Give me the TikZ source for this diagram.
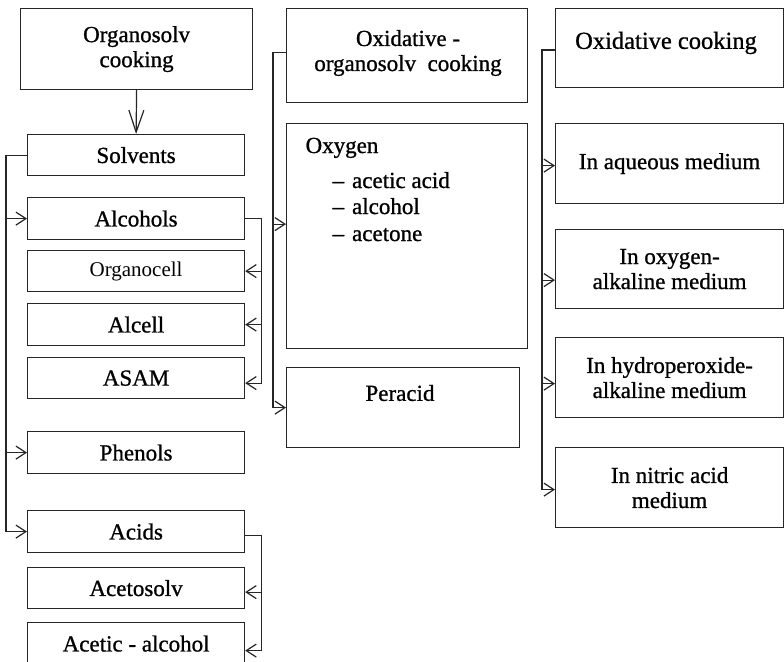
\documentclass[tikz,border=0pt]{standalone}
\usepackage{fontspec}
\setmainfont{Liberation Serif}[FakeBold=0.9]
\newfontfamily\lightserif{Liberation Serif}
\usetikzlibrary{arrows.meta}
\begin{document}
\begin{tikzpicture}[x=1pt,y=-1pt, line width=1.2pt, draw=black!85,
  box/.style={draw, anchor=north west, inner sep=0pt, align=center},
  lbox/.style={box, minimum width=217pt},
  rbox/.style={box, minimum width=228pt},
  txt/.style={align=center, inner sep=0pt},
  arr/.style={-{Straight Barb[length=10pt,width=13pt]}},
  bigarr/.style={-{Straight Barb[length=22pt,width=15pt]}},
  font=\fontsize{23}{25}\selectfont]
\useasboundingbox (0,0) rectangle (784,661);
\clip (0,0) rectangle (784,661);
\fill[white] (0,0) rectangle (784,661);

% left column
\node[box, minimum width=232pt, minimum height=81pt] (org) at (20,8) {Organosolv\\cooking};
\node[lbox, minimum height=41pt] (sol) at (27,134) {Solvents};
\node[lbox, minimum height=42pt] (alc) at (27,197) {Alcohols};
\node[lbox, minimum height=41pt] (ocell) at (27,250) {\lightserif\fontsize{21}{25}\selectfont Organocell};
\node[lbox, minimum height=42pt] (alcell) at (27,303) {Alcell};
\node[lbox, minimum height=41pt] (asam) at (27,357) {ASAM};
\node[lbox, minimum height=42pt] (phen) at (27,431) {Phenols};
\node[lbox, minimum height=42pt] (acids) at (27,510) {Acids};
\node[lbox, minimum height=41pt] (aceto) at (27,567) {Acetosolv};
\node[lbox, minimum height=42pt] (acet) at (27,622) {Acetic - alcohol};

% middle column
\node[box, minimum width=241pt, minimum height=94pt] (oxo) at (286,8) {};
\node[txt] (oxot) at (408,53) {Oxidative -\\organosolv\ \ cooking};
\node[box, minimum width=241pt, minimum height=225pt] (oxy) at (286,123) {};
\node[anchor=base west, inner sep=0pt] (oxyt) at (305,153) {Oxygen};
\node[anchor=base west, inner sep=0pt] (l1) at (332,188) {–\hspace{8pt}acetic acid};
\node[anchor=base west, inner sep=0pt] (l2) at (332,214) {–\hspace{8pt}alcohol};
\node[anchor=base west, inner sep=0pt] (l3) at (332,241) {–\hspace{8pt}acetone};
\node[box, minimum width=233pt, minimum height=80pt] (per) at (286,367) {};
\node[txt] (pert) at (400,393) {Peracid};

% right column
\node[rbox, minimum height=79pt] (oxc) at (555,8) {};
\node[txt] (oxct) at (666,43) {\fontsize{24.5}{25}\selectfont Oxidative cooking};
\node[rbox, minimum height=80pt] (aq) at (555,123) {In aqueous medium};
\node[rbox, minimum height=79pt] (oxal) at (555,229) {In oxygen-\\alkaline medium};
\node[rbox, minimum height=80pt] (hyd) at (555,337) {In hydroperoxide-\\alkaline medium};
\node[rbox, minimum height=80pt] (nit) at (555,447) {In nitric acid\\medium};

% connectors left
\draw[bigarr] (org.south) -- (sol.north);
\draw[arr] (sol.west) -| ([xshift=-21pt]acids.west) -- (acids.west);
\draw[arr] ([xshift=-21pt]alc.west) -- (alc.west);
\draw[arr] ([xshift=-21pt]phen.west) -- (phen.west);
\draw[arr] (alc.east) -| ([xshift=16pt,yshift=-5pt]asam.east) -- ([yshift=-5pt]asam.east);
\draw[arr] ([xshift=16pt]ocell.east) -- (ocell.east);
\draw[arr] ([xshift=16pt]alcell.east) -- (alcell.east);
\draw[arr] ([yshift=-4pt]acids.east) -| ([xshift=16pt,yshift=-7pt]acet.east) -- ([yshift=-7pt]acet.east);
\draw[arr] ([xshift=16pt,yshift=-4pt]aceto.east) -- ([yshift=-4pt]aceto.east);

% connectors middle
\draw[arr] ([yshift=3pt]oxo.west) -| ([xshift=-13pt]per.west) -- (per.west);
\draw[arr] ([xshift=-13pt,yshift=12pt]oxy.west) -- ([yshift=12pt]oxy.west);

% connectors right
\draw[arr] ([yshift=-2pt]oxc.west) -| ([xshift=-13pt,yshift=-2pt]nit.west) -- ([yshift=-2pt]nit.west);
\draw[arr] ([xshift=-13pt,yshift=-2pt]aq.west) -- ([yshift=-2pt]aq.west);
\draw[arr] ([xshift=-13pt,yshift=-11pt]oxal.west) -- ([yshift=-11pt]oxal.west);
\draw[arr] ([xshift=-13pt,yshift=-6pt]hyd.west) -- ([yshift=-6pt]hyd.west);
\end{tikzpicture}
\end{document}
